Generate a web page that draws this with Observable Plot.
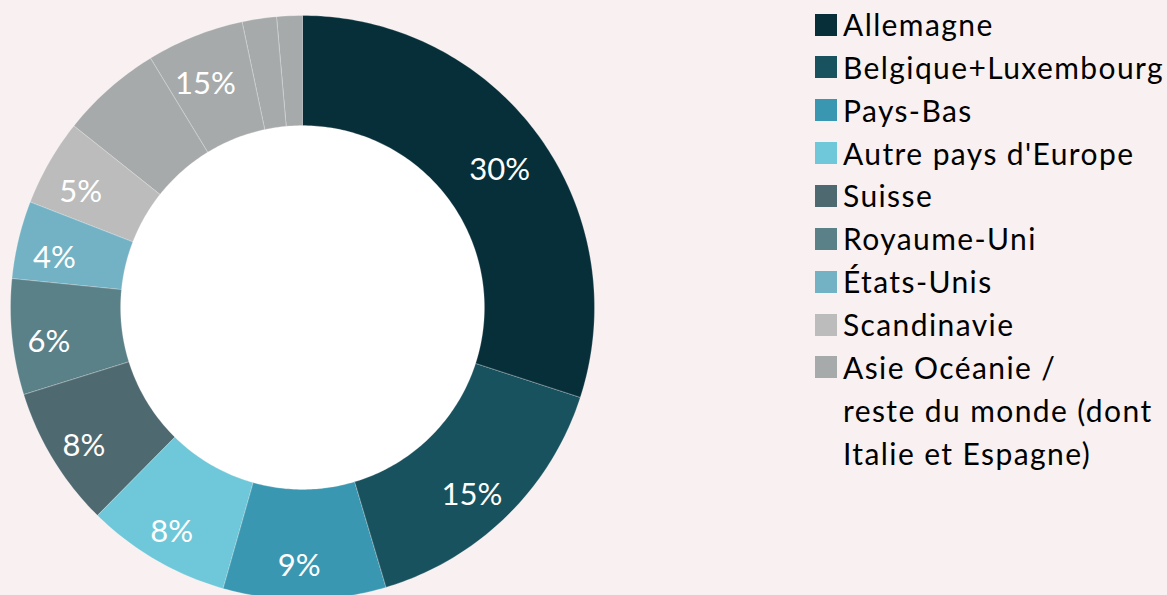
<!DOCTYPE html>
<html>
<head>
<meta charset="utf-8">
<script src="https://cdn.jsdelivr.net/npm/d3@7"></script>
<script src="https://cdn.jsdelivr.net/npm/@observablehq/plot@0.6"></script>
<style>
  html, body { margin: 0; padding: 0; background: #f9f1f1; overflow: hidden; }
  #wrap { position: relative; width: 1167px; height: 595px; }
  #chart { position: absolute; left: 0; top: 0; }
  #legend { position: absolute; left: 815px; top: 3px; font-family: Lato, "Open Sans", sans-serif; font-size: 30px; color: #000; letter-spacing: 1.4px; }
  .row { display: flex; align-items: flex-start; }
  .sw { width: 22px; height: 22px; margin-top: 10.5px; margin-right: 6px; flex: none; }
  .lab { line-height: 42.86px; white-space: pre; }
</style>
</head>
<body>
<div id="wrap">
  <div id="chart"></div>
  <div id="legend"></div>
</div>
<script>
// ---- data ----
const categories = ["Allemagne", "Belgique+Luxembourg", "Pays-Bas", "Autre pays d'Europe", "Suisse", "Royaume-Uni", "États-Unis", "Scandinavie", "Asie Océanie /\nreste du monde (dont\nItalie et Espagne)"];
const shares = [30, 15.4, 9, 8, 7.8, 6.4, 4.3, 4.8, 14.3];
// the last category is drawn as several same-coloured sub-slices (clockwise order)
const lastParts = [5.6, 5.4, 1.9, 1.4];
const lastLabelPart = 1;
const labels = ["30%", "15%", "9%", "8%", "8%", "6%", "4%", "5%", "15%"];
const colors = ["#072f3a", "#18525e", "#3a97b1", "#6ec8d9", "#4f6970", "#5a8088", "#73b2c4", "#bbbcbb", "#a7aaab"];

// ---- build segments ----
const inner = 0.623, outer = 1, labelR = 0.856;
const segments = [];
categories.forEach((c, i) => {
  const parts = i === categories.length - 1 ? lastParts : [shares[i]];
  parts.forEach((v, j) => {
    segments.push({cat: c, value: v, color: colors[i],
      label: (parts.length === 1 || j === lastLabelPart) ? labels[i] : null});
  });
});
const total = d3.sum(segments, d => d.value);
let acc = 0;
segments.forEach((s, k) => { s.a0 = acc / total; acc += s.value; s.a1 = acc / total; s.id = k; });

const pts = [];
for (const s of segments) {
  const n = Math.max(4, Math.ceil((s.a1 - s.a0) * 400));
  const ang = d3.range(n + 1).map(t => 2 * Math.PI * (s.a0 + (s.a1 - s.a0) * t / n));
  for (const a of ang) pts.push({seg: s.id, color: s.color, x: outer * Math.sin(a), y: outer * Math.cos(a)});
  for (const a of ang.slice().reverse()) pts.push({seg: s.id, color: s.color, x: inner * Math.sin(a), y: inner * Math.cos(a)});
}
const holePts = d3.range(0, 360, 1).map(d => ({x: inner * Math.sin(d * Math.PI / 180), y: inner * Math.cos(d * Math.PI / 180)}));
const labelData = segments.filter(s => s.label).map(s => {
  const a = Math.PI * (s.a0 + s.a1);
  return {text: s.label, x: labelR * Math.sin(a), y: labelR * Math.cos(a)};
});

const chart = Plot.plot({
  width: 1167,
  height: 595,
  margin: 0,
  style: {background: "transparent", overflow: "hidden"},
  x: {domain: [-1, 1], range: [10, 594], axis: null},
  y: {domain: [-1, 1], range: [599, 15], axis: null},
  color: {type: "identity"},
  marks: [
    Plot.line(holePts, {x: "x", y: "y", fill: "#ffffff", stroke: "none", curve: "linear-closed"}),
    Plot.line(pts, {x: "x", y: "y", z: "seg", fill: "color", stroke: "#ffffff", strokeOpacity: 0.3, strokeWidth: 0.8, curve: "linear-closed"}),
    Plot.text(labelData, {x: "x", y: "y", text: "text", fill: "white", fontSize: 31, fontFamily: "Lato, 'Open Sans', sans-serif", dx: -5, dy: 9})
  ]
});
document.getElementById("chart").appendChild(chart);

// ---- legend ----
const legend = document.getElementById("legend");
categories.forEach((c, i) => {
  const row = document.createElement("div");
  row.className = "row";
  const sw = document.createElement("div");
  sw.className = "sw";
  sw.style.background = colors[i];
  const lab = document.createElement("div");
  lab.className = "lab";
  lab.textContent = c;
  row.appendChild(sw);
  row.appendChild(lab);
  legend.appendChild(row);
});
</script>
</body>
</html>
